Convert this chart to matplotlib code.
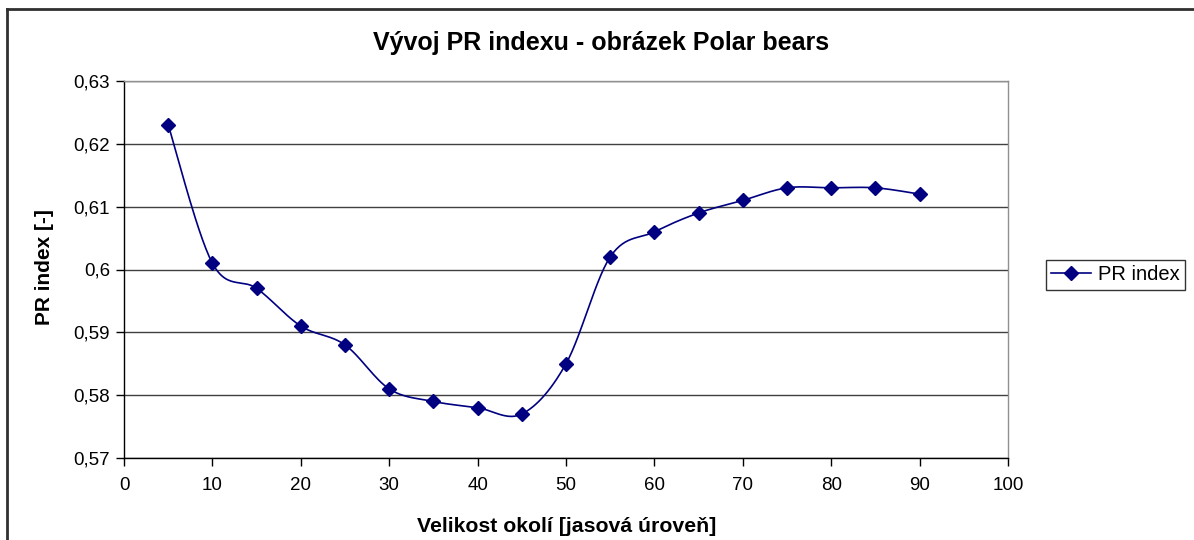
import numpy as np
import matplotlib
matplotlib.use("Agg")
import matplotlib.pyplot as plt
from matplotlib.lines import Line2D
from matplotlib.ticker import FuncFormatter

plt.rcParams['font.family'] = ['Liberation Sans', 'DejaVu Sans']

x_vals = [5, 10, 15, 20, 25, 30, 35, 40, 45, 50, 55, 60, 65, 70, 75, 80, 85, 90]
pr_index = [0.623, 0.601, 0.597, 0.591, 0.588, 0.581, 0.579, 0.578, 0.577,
            0.585, 0.602, 0.606, 0.609, 0.611, 0.613, 0.613, 0.613, 0.612]
x_ticks = [0, 10, 20, 30, 40, 50, 60, 70, 80, 90, 100]
y_ticks = [0.57, 0.58, 0.59, 0.60, 0.61, 0.62, 0.63]

title = "Vývoj PR indexu - obrázek Polar bears"
xlabel = "Velikost okolí [jasová úroveň]"
ylabel = "PR index [-]"
series_name = "PR index"
color = "#000080"


def smooth(xs, ys, n=30):
    xs = np.asarray(xs, float); ys = np.asarray(ys, float)
    px = np.concatenate([[xs[0]], xs, [xs[-1]]])
    py = np.concatenate([[ys[0]], ys, [ys[-1]]])
    ox, oy = [], []
    t = np.linspace(0, 1, n)
    for i in range(1, len(px) - 2):
        p0 = np.array([px[i-1], py[i-1]]); p1 = np.array([px[i], py[i]])
        p2 = np.array([px[i+1], py[i+1]]); p3 = np.array([px[i+2], py[i+2]])
        c1 = p1 + (p2 - p0) / 6.0
        c2 = p2 - (p3 - p1) / 6.0
        b = ((1-t)**3)[:, None]*p1 + (3*(1-t)**2*t)[:, None]*c1 + (3*(1-t)*t**2)[:, None]*c2 + (t**3)[:, None]*p2
        ox.extend(b[:, 0]); oy.extend(b[:, 1])
    return np.array(ox), np.array(oy)


def fmt(v, p):
    s = f"{v:.2f}".rstrip('0').rstrip('.')
    return s.replace('.', ',')


fig = plt.figure(figsize=(11.94, 5.40), dpi=100)
W, H = 1194, 540
ax = fig.add_axes([124/W, 1-458/H, (1008-124)/W, (458-81)/H])

sx, sy = smooth(x_vals, pr_index)
ax.plot(sx, sy, color=color, lw=1.2, zorder=3)
ax.plot(x_vals, pr_index, linestyle='none', marker='D', ms=7, color=color, zorder=4)

ax.set_xlim(0, 100)
ax.set_ylim(0.57, 0.63)
ax.set_xticks(x_ticks)
ax.set_yticks(y_ticks)
ax.yaxis.set_major_formatter(FuncFormatter(fmt))
ax.grid(axis='y', color='#404040', lw=1)
ax.set_axisbelow(True)
for s in ['top', 'right']:
    ax.spines[s].set_color('#909090')
    ax.spines[s].set_linewidth(1)
for s in ['left', 'bottom']:
    ax.spines[s].set_color('black')
    ax.spines[s].set_linewidth(1)
ax.tick_params(direction='out', length=6, width=1, labelsize=13.5, pad=4)
ax.tick_params(axis='x', pad=8)

fig.text(601/W, 1-43/H, title, ha='center', va='center', fontsize=18, fontweight='bold')
fig.text(567/W, 1-526/H, xlabel, ha='center', va='center', fontsize=15.3, fontweight='bold')
fig.text(45/W, 1-267/H, ylabel, ha='center', va='center', rotation=90, fontsize=15, fontweight='bold')

handle = Line2D([], [], color=color, marker='D', ms=7, lw=1.2)
leg = fig.legend([handle], [series_name], loc='center left', bbox_to_anchor=(1046/W, 1-275/H),
                 fontsize=14.5, frameon=True, fancybox=False, edgecolor='black', handlelength=2.0,
                 borderpad=0.25, handletextpad=0.35, borderaxespad=0)
leg.get_frame().set_linewidth(1)

fig.add_artist(Line2D([7/W, 1.0], [1-9/H, 1-9/H], transform=fig.transFigure, color='#303030', lw=2))
fig.add_artist(Line2D([7/W, 7/W], [1-9/H, 0], transform=fig.transFigure, color='#303030', lw=2))

fig.savefig("out.png", dpi=100)
